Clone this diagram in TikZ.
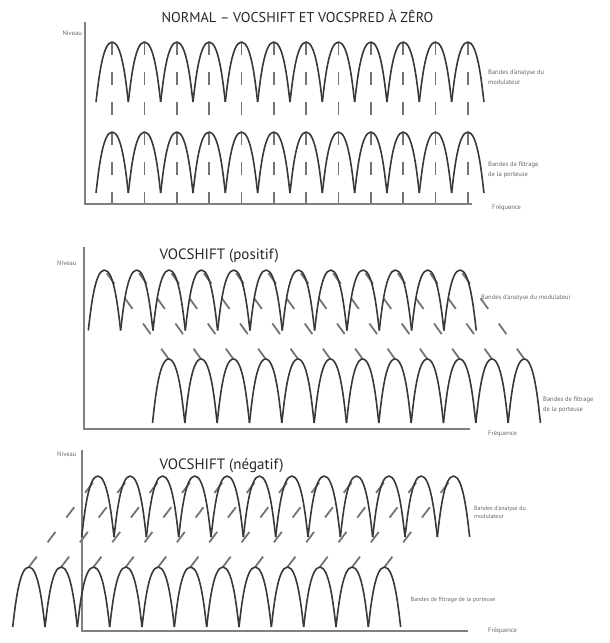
\documentclass[tikz,border=0pt]{standalone}
\usepackage{fontspec}
\setmainfont{PT Sans}
\tikzset{
 archline/.style={line width=1.6pt, draw=black!78, line join=round},
 axisline/.style={line width=1.6pt, draw=black!50},
 vdash/.style={line width=1.8pt, draw=black!55, dash pattern=on 13pt off 17pt},
 ddash/.style={line width=1.8pt, draw=black!55, dash pattern=on 13pt off 18pt},
 title/.style={font=\fontsize{15}{17}\selectfont, text=black!85, inner sep=0pt, anchor=base west},
 lbl/.style={font=\fontsize{6.5}{10}\selectfont, text=black!60, inner sep=0pt, align=left, anchor=west},
}
\newcommand\archrow[3]{%
 \foreach \k in {0,...,11}{%
  \pgfmathsetmacro\xa{#1+32.33*\k}%
  \pgfmathsetmacro\xb{\xa+32.33}%
  \pgfmathsetmacro\xc{\xa+16.165}%
  \pgfmathsetmacro\ym{#2-0.35*(#2-#3)}%
  \draw[archline] (\xa,#2) .. controls (\xa+2.5,\ym) and (\xc-9.7,#3) .. (\xc,#3) .. controls (\xc+9.7,#3) and (\xb-2.5,\ym) .. (\xb,#2);
 }}
\begin{document}
\begin{tikzpicture}[x=1pt,y=-1pt]
\useasboundingbox (0,0) rectangle (610,643);
% ---------- Panel 1 ----------
\node[title, anchor=base, font=\fontsize{14.2}{16}\selectfont] (t1) at (297.5,22.7) {NORMAL – VOCSHIFT ET VOCSPRED À ZÊRO};
\foreach \k in {0,...,11}{\pgfmathsetmacro\xc{112.17+32.33*\k}\draw[vdash] (\xc,42) -- (\xc,207);}
\draw[axisline] (85,21.7) -- (85,204) -- (471.7,204);
\archrow{96}{102}{42}
\archrow{96}{193}{132}
\node[lbl, anchor=east] (n1) at (82,33) {Niveau};
\node[lbl] (a1) at (488,77.5) {Bandes d'analyse du\\modulateur};
\node[lbl] (f1) at (488,169.5) {Bandes de filtrage\\de la porteuse};
\node[lbl] (q1) at (492,208) {Fréquence};
% ---------- Panel 2 ----------
\node[title] (t2) at (159.5,259.3) {VOCSHIFT (positif)};
\foreach \k in {0,...,11}{\pgfmathsetmacro\xc{104.47+32.33*\k}\draw[ddash, dash phase=27pt] (\xc,270) -- (\xc+64.2,359);}
\draw[axisline] (84,246.7) -- (84,429) -- (470,429);
\archrow{88.3}{330.5}{270}
\archrow{152.5}{423}{359}
\node[lbl] (n2) at (57,263) {Niveau};
\node[lbl] (a2) at (481,298) {Bandes d'analyse du modulateur};
\node[lbl] (f2) at (543,405) {Bandes de filtrage\\de la porteuse};
\node[lbl] (q2) at (488,434) {Fréquence};
% ---------- Panel 3 ----------
\node[title] (t3) at (159.5,469.3) {VOCSHIFT (négatif)};
\foreach \k in {0,...,11}{\pgfmathsetmacro\xc{28.87+32.33*\k}\draw[ddash] (\xc,567) -- (\xc+69,476);}
\draw[axisline] (81.7,450) -- (81.7,631) -- (468,631);
\archrow{81.7}{537}{476}
\archrow{12.7}{627}{567}
\node[lbl] (n3) at (57,454) {Niveau};
\node[lbl, font=\fontsize{6}{8.5}\selectfont] (a3) at (474,512.5) {Bandes d'analyse du\\modulateur};
\node[lbl, font=\fontsize{6}{8.5}\selectfont] (f3) at (410.5,600) {Bandes de filtrage de la porteuse};
\node[lbl] (q3) at (488,631) {Fréquence};
\end{tikzpicture}
\end{document}
